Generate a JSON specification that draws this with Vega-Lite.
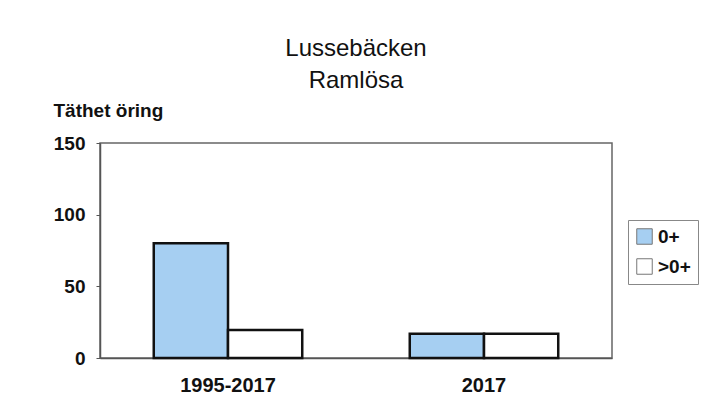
{
  "$schema": "https://vega.github.io/schema/vega-lite/v6.json",
  "autosize": "none",
  "width": 512,
  "height": 215,
  "padding": {"left": 100, "top": 143, "right": 89, "bottom": 57},
  "background": "white",
  "title": {
    "text": ["Lussebäcken", "Ramlösa"],
    "font": "Liberation Sans",
    "fontSize": 24,
    "fontWeight": "normal",
    "lineHeight": 32,
    "color": "#111",
    "anchor": "middle",
    "frame": "group",
    "offset": 8
  },
  "data": {
    "values": [
      {"period": "1995-2017", "age": "0+", "density": 80},
      {"period": "1995-2017", "age": ">0+", "density": 19.5},
      {"period": "2017", "age": "0+", "density": 17},
      {"period": "2017", "age": ">0+", "density": 17}
    ]
  },
  "mark": {"type": "bar", "stroke": "#111", "strokeWidth": 2.5},
  "encoding": {
    "x": {
      "field": "period",
      "type": "nominal",
      "sort": ["1995-2017", "2017"],
      "scale": {"paddingInner": 0.42, "paddingOuter": 0.21},
      "axis": {
        "title": null,
        "labelAngle": 0,
        "ticks": false,
        "labelPadding": 17,
        "labelFont": "Liberation Sans",
        "labelFontSize": 20,
        "labelFontWeight": "bold",
        "labelColor": "#111",
        "domainColor": "#555",
        "domainWidth": 1.5
      }
    },
    "xOffset": {
      "field": "age",
      "type": "nominal",
      "sort": ["0+", ">0+"],
      "scale": {"paddingInner": 0, "paddingOuter": 0}
    },
    "y": {
      "field": "density",
      "type": "quantitative",
      "scale": {"domain": [0, 150], "nice": false},
      "axis": {
        "title": "Täthet öring",
        "titleAngle": 0,
        "titleAlign": "left",
        "titleBaseline": "alphabetic",
        "titleX": -47,
        "titleY": -27,
        "titleFont": "Liberation Sans",
        "titleFontSize": 19,
        "titleFontWeight": "bold",
        "titleColor": "#111",
        "values": [0, 50, 100, 150],
        "grid": false,
        "tickSize": 4,
        "tickColor": "#555",
        "labelPadding": 11,
        "labelFont": "Liberation Sans",
        "labelFontSize": 19,
        "labelFontWeight": "bold",
        "labelColor": "#111",
        "domainColor": "#555",
        "domainWidth": 1.5
      }
    },
    "fill": {
      "field": "age",
      "type": "nominal",
      "sort": ["0+", ">0+"],
      "scale": {"domain": ["0+", ">0+"], "range": ["#a6cff2", "#ffffff"]},
      "legend": {
        "title": null,
        "orient": "none",
        "legendX": 528,
        "legendY": 77,
        "symbolType": "square",
        "symbolSize": 240,
        "symbolStrokeColor": "#777",
        "symbolStrokeWidth": 1,
        "labelFont": "Liberation Sans",
        "labelFontSize": 19,
        "labelFontWeight": "bold",
        "labelColor": "#111",
        "labelOffset": 4,
        "rowPadding": 9,
        "padding": 7,
        "strokeColor": "#888",
        "fillColor": "white"
      }
    }
  },
  "config": {
    "view": {"stroke": "#666", "strokeWidth": 1.5}
  }
}
